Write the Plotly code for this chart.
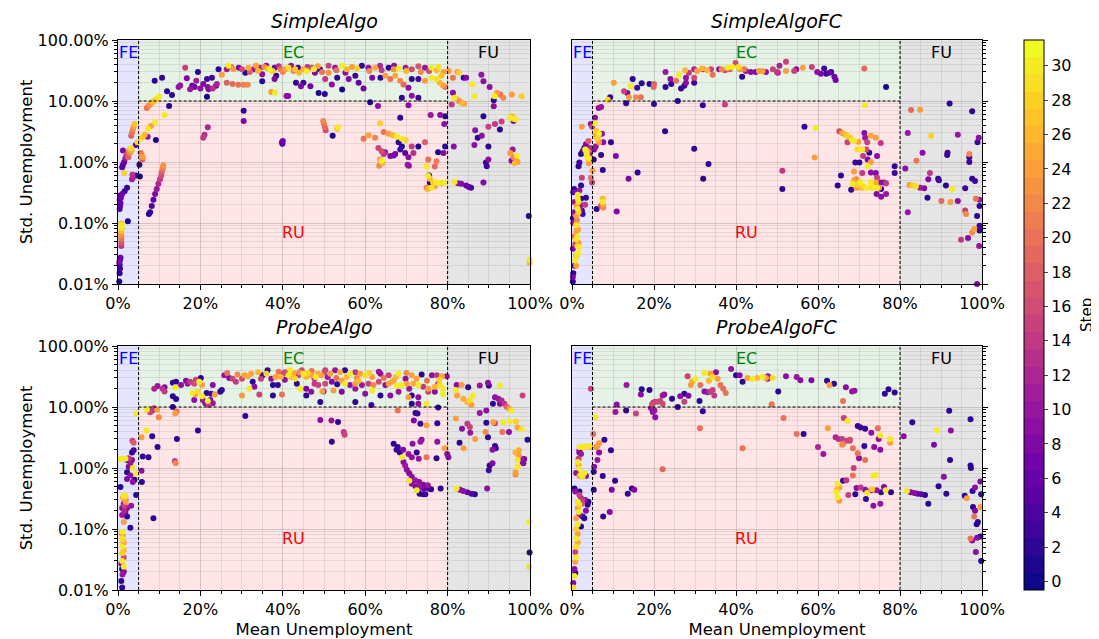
import plotly.graph_objects as go
import plotly.colors as pc

# ---------------- data: (mean unemployment %, std unemployment %, step) ----------------
simple_fe = [
    (0.3,0.011,1),(0.4,0.015,2),(0.5,0.018,3),(0.4,0.021,2),(0.5,0.025,4),(0.6,0.027,6),(0.3,0.023,8),
    (0.8,0.042,14),(0.8,0.048,17),(0.8,0.055,20),(0.8,0.062,22),(0.7,0.068,24),(0.8,0.075,27),(0.9,0.083,29),
    (0.9,0.092,30),(0.8,0.098,26),(2.4,0.107,1),
    (0.4,0.17,4),(0.5,0.19,5),(0.6,0.21,6),(0.4,0.24,3),(0.7,0.26,7),(0.5,0.28,5),(1.0,0.30,6),(1.6,0.33,3),(2.2,0.38,2),
    (3.4,0.52,10),(3.6,0.55,12),(3.5,0.62,13),(4.4,0.60,2),(1.5,0.66,28),
    (1.0,0.82,5),(1.2,0.90,4),(1.5,1.0,6),(1.8,1.15,10),(2.0,1.25,13),(2.3,1.35,16),(2.6,1.45,20),(2.8,1.55,23),
    (3.0,1.62,26),(3.2,1.70,29),(2.5,1.2,18),(2.9,1.4,22),(3.3,1.55,25),(1.2,1.55,8),
    (3.2,2.7,18),(3.4,3.0,20),(3.6,3.4,22),(3.8,3.8,24),(4.0,4.2,27),(4.3,1.9,4),(4.7,2.1,28),
]
simple_ru = [
    (5.3,0.58,1),(5.2,0.9,2),(5.5,1.4,20),(5.8,1.3,22),(6.0,1.2,24),(5.9,1.1,18),
    (5.8,2.5,28),(6.5,2.8,26),(7.3,3.5,30),(8.0,3.9,24),(9.0,4.5,30),(7.2,2.6,10),(9.2,2.3,1),
    (7.5,0.14,1),(7.8,0.15,2),(8.2,0.19,4),(8.6,0.24,6),(9.0,0.30,8),(9.4,0.36,10),(9.8,0.44,12),(10.2,0.52,14),
    (10.5,0.60,16),(10.6,0.68,18),(10.8,0.75,20),(10.9,0.82,22),(11.0,0.88,23),
    (11.3,5.9,30),(12.4,8.3,1),
    (7.0,7.7,20),(7.5,8.4,22),(8.0,9.0,24),(8.5,9.6,26),(9.0,10.3,27),(9.5,11.0,29),(10.0,11.8,30),
    (20.7,2.5,14),(21.0,2.8,13),(21.8,3.7,12),(30.5,6.9,2),(30.5,4.7,8),(39.8,2.1,6),(40.0,2.2,7),(39.9,2.0,4),
    (49.8,4.7,22),(50.0,4.2,20),(50.2,3.7,19),(50.4,3.3,16),(53.4,3.7,30),(53.2,3.5,26),(52.1,2.7,1),
    (61.2,9.5,1),(63.1,8.3,9),(63.6,4.3,28),(60.8,2.75,24),(62.4,2.5,22),(59.6,2.4,20),
    (64.5,3.1,20),(65.7,2.9,24),(66.7,2.75,26),(67.7,2.6,30),(68.9,2.4,30),(69.8,2.3,28),
    (68.1,2.1,2),(68.9,1.8,1),(68.5,1.6,3),(67.3,1.35,7),(66.1,1.25,8),(66.9,1.28,6),(69.7,1.4,5),(70.5,1.2,9),
    (70.3,0.9,10),(70.6,0.87,9),(71.3,1.8,14),(72.9,1.8,1),(71.7,1.4,13),
    (63.2,1.7,15),(64.0,1.5,16),(64.5,1.35,14),(63.6,1.1,24),(64.0,1.05,30),(63.4,0.87,22),(64.8,1.45,9),(64.2,0.95,26),
    (74.5,2.1,18),(75.3,1.1,20),(77.3,1.03,21),(76.9,0.84,19),(74.9,0.84,30),
    (77.7,1.45,1),(79.4,1.8,2),(79.0,1.4,8),(78.2,5.9,9),(79.4,5.6,1),(75.9,5.9,10),(79.2,4.2,9),(68.5,5.3,2),
    (75.3,0.59,30),(75.7,0.53,26),(76.5,0.46,28),(77.3,0.46,30),(74.9,0.38,22),(76.1,0.38,30),(76.9,0.40,24),
    (75.7,0.46,2),(77.7,0.46,30),(79.4,0.46,30),(75.5,0.60,1),(78.5,0.45,28),(75.2,0.36,26),(70.5,8.5,9),
]
simple_ec = [
    (8.9,21.4,2),(10.7,24,2),(11.9,14.5,2),(13.1,12.5,2),
    (15.1,18,9),(14.7,17,10),(16.7,23.5,8),(16.3,35,15),(18.0,17.7,5),(18.6,17,7),(19.4,30,2),(20.7,19,8),
    (21.6,23,3),(21.8,17,9),(22.8,24,3),(21.6,11.7,1),(23.8,17.7,6),(24.4,33,2),(25.2,27,24),(26.4,33,11),(26.8,38,30),
    (26.4,20,18),(27.8,19,19),(29.2,18.5,20),(30.5,18.5,21),(31.5,18.5,22),
    (28.0,33,24),(29.3,35,8),(30.1,33,16),(30.9,29,2),(31.7,35,25),(32.9,33,10),(34.4,35,12),(35.0,27.5,9),
    (36.8,33,30),(36.3,34,26),(38.0,35,6),(38.0,23,8),(38.4,26,2),(39.0,37,13),(40.6,33,24),(41.4,35,29),
    (42.6,31,22),(43.7,35,3),(45.0,33,25),(45.8,31,30),(47.0,35,16),(47.8,29,8),(49.0,33,2),
    (37.2,14,24),(38.1,13.7,30),(40.9,12.1,9),(41.3,12.1,8),(43.2,20,2),(45.0,20,3),(44.4,17.5,8),(46.7,17.5,7),
    (48.7,13.5,1),(50.2,13,2),(35.0,21,2),
    (51.1,38,15),(52.7,35,10),(54.4,38,30),(56.8,36,24),(59.2,38,3),(60.8,35,9),(62.4,35,25),(63.6,38,12),
    (65.7,35,2),(66.9,33,23),(68.1,34,30),(69.8,35,11),(71.3,33,16),(72.9,37,17),(74.5,35,10),(76.1,35,30),(77.3,32,26),
    (51.1,29,23),(53.2,24,2),(55.2,29,9),(56.0,23,8),(57.6,26,3),(58.4,20,6),(59.6,16,7),(61.7,24,8),(63.7,24,2),
    (64.9,26,24),(66.1,23,20),(67.3,26,25),(68.5,21.5,22),(69.3,18.7,19),(70.5,16.5,9),(71.3,23,2),(72.9,23,3),
    (74.5,21.5,24),(76.1,24,30),(77.3,23,29),(78.1,20,26),(78.9,18,24),(79.4,17,20),(78.5,26,27),
    (68.9,11.3,2),(71.3,12.2,9),(72.9,11.3,3),(50.3,23,14),(51.9,18.7,9),(54.4,15.5,1),
    (27.5,36,20),(33.5,38,24),(35.5,36,22),(37.5,31,28),(39.5,33,20),(42.0,38,10),(44.0,29,26),(46.0,36,14),
    (48.5,37,24),(32.0,30,18),(34.0,31,26),(36.0,38,9),(40.0,30,22),(43.0,33,27),(47.5,33,30),(49.5,30,20),
    (53.0,32,20),(55.5,33,26),(58.0,34,28),(61.0,31,22),(64.0,32,14),(67.0,38,9),(70.0,31,26),(73.5,30,22),
    (75.5,31,16),(77.8,36,29),(79.0,30,24),(20.0,16,9),(22.0,15.6,8),(17.5,15.6,10),(19.0,21.4,11),(24.0,19,12),(23.0,16,13),
]
simple_fu = [
    (81.7,0.47,30),(82.5,0.45,9),(83.3,0.44,8),(84.5,0.41,6),(85.2,0.39,5),(85.7,0.38,4),(88.7,0.46,8),
    (80.3,31,24),(81.3,13.7,9),(81.7,11.3,30),(82.0,11.0,24),(82.8,10.0,22),(83.5,9.3,26),(84.0,9.0,24),(81.0,8.8,14),
    (82.4,30,24),(82.8,29,28),(84.5,24,8),(83.9,24,2),(81.3,24,20),(86.0,18.7,30),(86.5,12.0,30),(88.2,27,10),
    (88.7,21,9),(90.2,17,9),(91.2,10.3,2),(91.2,8.2,9),(92.0,13.7,24),(92.8,12.8,20),(93.5,11.3,22),(91.4,12.0,30),
    (95.6,12.8,24),(98.0,12.0,28),
    (88.7,5.6,2),(86.7,3.3,9),(87.3,2.5,2),(88.3,2.7,9),(89.9,1.8,2),(86.5,1.9,9),(81.5,1.8,9),
    (89.9,3.8,15),(91.5,4.2,14),(93.1,4.6,15),(92.7,3.4,2),
    (95.2,5.3,30),(96.0,5.1,28),(96.5,5.0,30),(96.0,4.7,9),(95.6,5.6,26),
    (95.2,1.4,24),(96.0,1.2,22),(96.5,1.1,20),(97.0,1.0,24),(95.5,1.05,9),(96.8,1.25,30),(95.8,1.6,10),(96.3,0.95,26),
    (89.3,0.98,2),(89.5,0.85,3),(89.9,1.1,9),
    (99.7,0.13,2),(99.9,0.025,30),(99.9,0.022,26),
]

simplefc_fe = [
    (2.4,3.8,24),(4.6,4.2,9),(4.9,3.8,15),(3.4,1.95,8),(3.0,1.7,2),(2.6,1.5,3),(3.2,1.6,30),(3.5,1.42,30),
    (3.7,1.25,29),(4.0,1.13,26),(4.1,0.95,24),(4.1,1.15,30),(4.3,1.35,10),(2.2,1.35,2),(1.8,0.98,3),(1.6,0.85,2),
    (2.4,0.55,15),(2.2,0.41,2),(4.6,0.55,20),(4.9,0.46,15),(3.8,1.5,25),(4.4,1.7,12),(4.0,2.2,18),
    (0.5,0.36,2),(0.8,0.32,8),(1.4,0.25,30),(1.6,0.22,29),(1.1,0.19,24),(1.4,0.17,30),(1.6,0.15,28),(2.0,0.17,9),
    (2.4,0.16,2),(2.6,0.14,3),(3.4,0.26,2),(3.2,0.2,14),(0.6,0.22,10),(1.0,0.13,24),(1.2,0.11,22),(1.0,0.093,30),
    (1.1,0.074,24),(1.3,0.06,30),(1.0,0.054,29),(1.6,0.047,24),(1.7,0.04,30),(1.5,0.032,30),(1.0,0.029,24),
    (0.8,0.024,30),(0.6,0.02,2),(0.3,0.015,2),(0.2,0.013,8),(0.2,0.011,2),(0.3,0.10,10),(0.2,0.12,3),(0.6,0.15,9),
    (0.3,0.32,2),(0.8,0.045,15),(0.6,0.06,20),(0.2,0.038,8),(2.2,0.25,2),(2.0,0.2,9),(1.8,0.34,10),(1.4,0.29,30),
    (1.5,0.078,25),(1.3,0.042,28),(1.2,0.029,29),(1.0,0.02,24),
]
simplefc_ru = [
    (13.2,9.2,2),(20.0,8.9,2),(25.8,10,2),(31.9,8.5,2),(37.3,8.8,15),(22.7,3.2,2),(29.8,1.65,2),(33.3,0.93,2),
    (32.0,0.53,2),(16.0,0.67,2),(13.8,0.53,8),(10.7,1.25,8),(9.5,2.1,2),(7.6,2.1,9),(7.1,1.3,2),(7.5,0.74,2),
    (10.9,0.155,8),(6.0,0.17,2),(7.5,0.25,26),(7.5,0.22,30),(7.6,0.2,24),(7.6,0.18,22),(7.1,0.19,16),
    (5.6,5.3,9),(5.6,4.3,30),(6.6,2.9,30),(6.2,2.4,28),(5.8,2.7,24),(6.6,2.1,24),(7.3,2.9,9),(5.4,1.6,8),(5.8,1.8,10),
    (5.3,1.1,2),(7.1,8.0,10),(6.5,7.7,9),(5.0,0.72,24),(6.2,2.6,26),(6.0,3.2,27),
    (71.5,8.5,30),(56.7,3.8,2),(59.4,3.6,30),(59.2,1.18,24),(51.3,0.72,14),(51.3,0.36,2),
    (65.2,3.2,16),(65.9,3.0,24),(66.5,2.85,26),(67.1,2.7,28),(67.8,2.5,27),(68.3,2.3,30),(67.2,2.1,15),(68.9,2.25,30),
    (69.8,2.15,24),(71.3,3.0,9),(71.5,2.5,10),(72.9,2.7,25),(74.1,2.5,24),(75.3,2.05,14),(72.0,2.1,15),(70.8,1.6,30),
    (71.8,1.6,16),(72.5,1.42,2),(69.6,1.62,29),(71.0,1.25,14),(72.1,1.1,8),(72.9,1.0,24),(74.4,1.25,9),(72.1,0.85,30),
    (70.1,0.98,2),(69.1,0.98,3),(70.8,0.66,14),(72.9,0.67,9),(74.1,0.66,8),(74.4,0.55,15),(68.8,0.7,24),(65.6,0.6,2),
    (64.8,0.41,2),(68.8,0.5,24),(68.4,0.44,30),(70.3,0.47,30),(71.1,0.4,29),(72.9,0.47,30),(74.1,0.46,25),(73.7,0.38,30),
    (74.9,0.38,24),(75.3,0.46,9),(76.1,0.46,8),(76.6,0.45,14),(75.4,0.36,2),(74.3,0.3,8),(75.4,0.27,9),(76.6,0.3,10),
    (68.1,0.35,2),(69.4,0.38,24),(78.7,0.85,2),(78.7,0.66,3),(69.3,0.52,22),(69.5,0.42,28),(70.7,0.38,26),(71.9,0.38,30),
    (73.1,0.38,29),(74.4,0.38,30),
]
simplefc_ec = [
    (8.7,10.5,29),(8.9,10.6,6),(9.3,11.5,2),(10.2,20,24),(12.7,14.5,15),(13.5,13.5,8),(13.9,11.5,24),(15.6,11.5,22),
    (16.8,11.5,20),(14.3,17.5,30),(14.8,23,2),(15.9,16.5,3),(17.0,19.5,2),(18.9,19,1),(19.9,17,19),(20.0,19,18),
    (22.8,30,10),(22.8,17,2),(24.0,23,9),(24.2,19,2),(25.4,21.5,20),(26.1,27,30),(26.6,16,2),(27.4,17.7,3),(27.8,20,9),
    (27.6,32,26),(27.8,24,10),(29.8,20,3),(29.8,24,16),(29.8,33,12),(31.7,34,26),(31.9,33,11),(33.9,33,15),(34.3,27,20),
    (35.9,33,9),(37.3,32,16),(37.9,35,30),(39.1,36,30),(39.9,42,16),(40.6,36,29),(41.5,25,2),(42.4,31,10),(43.6,30,9),
    (44.8,30,8),(45.6,31,24),(47.3,30,9),(49.0,33,15),(50.0,30,14),
    (50.6,38,12),(50.2,29,10),(52.2,31,24),(52.2,44,15),(54.2,31,15),(54.7,33,9),(56.3,35,24),(58.5,36,15),(59.8,30,9),
    (60.7,28,8),(61.5,34,3),(62.0,28,2),(62.8,29,7),(63.2,30,2),(64.0,25,6),(64.3,22,7),(71.3,34,19),(76.6,17,1),
    (41.0,33,24),(42.0,33,20),(38.5,33,18),(36.5,33,22),(30.5,31,24),(28.5,29,14),(33.0,32,26),(46.5,31,24),
]
simplefc_fu = [
    (82.7,7.1,19),(84.9,7.2,24),(92.1,9.1,2),(97.6,6.8,2),(81.9,3.0,10),(87.6,2.7,28),(94.1,2.8,10),(99.2,2.5,9),
    (98.9,2.1,3),(85.5,1.42,9),(91.6,1.42,3),(91.5,1.3,2),(96.9,1.35,22),(96.9,1.2,3),(96.9,1.0,3),(84.0,1.05,20),
    (81.3,0.78,9),(87.3,0.66,14),(86.9,0.52,8),(89.3,0.53,2),(89.5,0.5,3),(91.2,0.41,2),(92.7,0.36,30),(95.9,0.37,3),
    (97.6,0.53,2),(98.3,0.49,3),(82.3,0.42,24),(83.1,0.41,28),(83.9,0.40,29),(84.9,0.38,10),(85.9,0.37,8),
    (86.7,0.26,2),(90.1,0.23,19),(92.3,0.22,24),(94.1,0.23,9),(98.5,0.25,20),(99.4,0.24,10),(99.4,0.19,2),
    (81.9,0.15,10),(95.9,0.16,15),(96.1,0.14,22),(98.8,0.13,2),(99.4,0.09,3),(99.4,0.075,2),(98.1,0.08,24),
    (97.6,0.07,22),(96.6,0.057,8),(94.9,0.053,14),(99.3,0.042,10),(98.8,0.01,8),
]

probe_fe = [
    (3.4,1.35,9),(3.0,1.2,10),(2.6,1.45,14),(3.4,1.8,2),(3.8,1.95,3),(3.5,2.8,15),(3.8,2.6,18),(2.2,1.35,2),
    (1.8,1.42,30),(1.4,1.42,30),(0.6,1.4,30),(2.6,1.05,8),(2.2,0.85,2),(3.0,0.75,9),(3.6,1.0,30),(4.6,0.8,30),(4.0,0.64,2),
    (3.6,0.59,9),(2.2,0.66,8),(4.4,0.36,2),(3.2,0.24,10),(3.0,0.105,2),(1.4,0.13,24),(1.0,0.22,9),(1.4,0.26,8),
    (1.8,0.31,14),(1.4,0.36,30),(1.8,0.34,29),(1.9,0.28,24),(1.6,0.24,15),(2.2,0.22,9),(1.8,0.19,8),(2.2,0.16,2),
    (1.0,0.17,10),(0.6,0.49,2),(1.6,0.30,20),(1.2,0.33,26),(1.5,0.20,12),
    (1.0,0.09,30),(1.2,0.079,25),(1.0,0.07,29),(1.4,0.06,24),(1.0,0.051,30),(1.4,0.045,26),(1.0,0.04,28),(1.4,0.034,16),
    (1.0,0.03,30),(0.8,0.027,9),(1.0,0.022,2),(1.4,0.02,8),(1.1,0.018,10),(0.8,0.014,2),(1.0,0.011,2),(1.4,0.024,30),
    (1.2,0.065,27),(0.9,0.085,22),(4.4,7.8,30),
]
probe_ru = [
    (7.0,9.0,30),(7.8,8.2,15),(8.3,8.8,10),(8.7,9.5,14),(9.5,9.0,24),(9.9,6.8,22),(13.3,10.0,2),(13.9,7.8,24),
    (14.2,8.4,20),(6.9,4.1,30),(5.7,3.2,24),(8.3,3.3,2),(9.6,2.2,2),(14.3,3.0,2),(19.4,4.1,2),(30.9,7.1,2),(49.1,6.1,9),
    (6.0,1.55,2),(7.4,1.5,2),(5.8,0.59,2),(5.7,0.9,9),(13.8,1.3,15),(14.0,1.2,22),(8.6,0.15,2),
    (51.8,6.0,10),(53.4,5.7,2),(54.8,3.9,14),(55.0,3.5,15),(51.9,2.7,2),(67.9,8.8,20),(72.2,8.0,2),(72.7,7.8,3),
    (71.8,6.0,8),(73.4,5.3,3),(77.5,5.4,2),(74.9,5.0,24),(77.5,2.7,9),(73.7,2.9,9),(73.4,2.7,10),(71.5,2.5,9),
    (66.9,2.5,2),(67.9,2.2,2),(67.6,2.0,3),(68.4,1.8,2),(69.2,2.0,8),(70.5,1.7,10),(72.5,1.8,2),(71.3,1.5,9),
    (73.0,1.42,10),(74.9,1.5,20),(77.3,1.45,2),(79.3,2.1,24),(79.9,1.7,9),
    (68.9,1.5,30),(69.3,1.25,9),(69.7,1.1,10),(70.1,0.94,9),(70.7,0.82,8),(71.3,0.72,9),(72.1,0.63,10),(73.1,0.59,9),
    (74.1,0.53,8),(75.2,0.52,10),(70.7,0.62,30),(71.3,0.55,9),(72.2,0.5,8),(73.2,0.47,9),(74.3,0.46,6),(75.4,0.46,3),
    (76.0,0.45,2),(72.5,0.43,30),(73.2,0.38,2),(74.1,0.37,2),(74.6,0.37,3),(78.3,0.46,2),
]
probe_ec = [
    (8.8,20,12),(9.6,22,10),(10.8,20,13),(11.3,21,8),(11.3,18,14),(13.3,25,2),(14.1,26,2),(13.9,21,30),(13.3,15,2),
    (14.1,13.5,2),(15.3,23,9),(16.5,27,8),(16.9,24,10),(17.5,26,14),(18.5,24,16),(18.9,28,15),(20.1,30,2),(19.7,26,30),
    (20.4,23,24),(18.1,17,30),(18.8,16,24),(19.3,18,29),(20.4,15,30),(18.5,13,9),(20.6,13,10),(21.2,11.5,9),(22.4,13,8),
    (22.0,10.8,14),(23.0,11.5,10),(21.8,12.5,30),(23.5,16,24),(21.5,17,2),(22.6,16.5,3),(23.0,23,9),(24.8,17.7,2),
    (25.2,19,2),(25.8,33,10),(27.0,30,8),(27.8,29,15),(28.6,26,14),(30.1,29,16),(30.7,33,24),(31.5,32,25),(32.3,35,24),
    (32.7,26,2),(33.1,21.5,9),(34.7,29,15),(35.1,33,2),(36.3,40,2),(37.2,29,9),(37.6,23,2),(38.2,31,24),(38.8,23,2),
    (39.8,16,20),(34.3,16,15),(31.9,20,30),(30.1,15.5,24),(37.6,15.5,2),(40.6,37,16),(41.4,33,30),(41.8,40,30),
    (42.6,36,24),(43.0,29,29),(43.8,33,15),(44.6,40,16),(45.0,35,30),(45.7,31,26),(46.1,36,28),(46.9,33,24),(47.7,29,14),
    (48.5,35,25),(49.3,33,24),(50.1,37,16),(50.9,31,10),(43.4,24,2),(44.2,20,30),(45.7,20,8),(46.9,17.7,9),(47.7,24,14),
    (48.6,23,15),(49.6,18,24),(45.7,15.5,2),(49.1,12.1,2),(26.5,36,20),(29.0,34,22),(34.0,37,26),(36.0,35,28),
    (39.0,38,20),(40.0,35,14),(42.0,31,26),(44.0,37,22),(47.0,39,20),(48.0,31,30),(40.5,28,9),(39.5,31,26),
    (50.3,40,15),(51.5,35,24),(52.7,40,10),(53.9,37,25),(55.1,40,2),(56.3,35,30),(57.6,37,14),(58.8,35,24),(60.0,33,29),
    (61.7,31,24),(63.3,38,10),(63.7,35,9),(65.7,33,15),(66.9,27,24),(68.1,35,30),(69.8,29,9),(71.3,33,24),(72.5,29,24),
    (73.7,34,2),(76.2,33,9),(77.4,33,14),(78.6,32,25),(79.8,32,10),
    (50.3,24,16),(51.9,26,8),(53.2,23.5,2),(54.3,27,24),(55.1,24,30),(56.3,23,9),(57.6,24,24),(58.4,27,26),(59.2,23,10),
    (60.8,24,15),(62.0,23,22),(63.3,26,16),(64.9,23,9),(65.7,24,24),(66.5,26,25),(67.7,22,30),(68.9,23,30),(70.1,24,24),
    (70.7,20,10),(71.7,24,25),(72.9,23,30),(74.1,21.5,14),(75.3,20,24),(76.9,21.5,26),(78.1,23,29),(78.9,20,30),(77.7,24,16),
    (49.9,18,9),(52.3,18.7,24),(54.3,17.7,8),(57.6,20,10),(60.0,16.5,9),(61.7,18.7,30),(63.7,15.5,2),(66.1,15.5,9),
    (68.1,17.7,10),(70.5,14.5,24),(71.3,15.5,2),(72.9,14.5,9),(74.9,11.3,30),(75.3,17.7,15),(76.9,17.7,9),(78.9,16,30),
    (57.6,12.1,2),(61.5,10.8,3),(71.3,11.3,2),(72.9,11.3,9),(77.7,9.8,2),
    (53.0,30,20),(55.5,31,26),(58.0,30,22),(61.0,36,28),(64.5,30,20),(67.5,31,26),(70.0,36,22),(75.0,27,20),(78.0,28,28),
]
probe_fu = [
    (82.2,0.46,30),(83.0,0.44,8),(83.8,0.42,9),(84.8,0.40,6),(85.8,0.38,4),(86.6,0.37,2),(89.6,0.46,9),
    (82.2,23,9),(83.4,23,24),(85.0,21,2),(82.0,19,30),(82.3,15.5,24),(83.8,13.7,25),(84.8,12.1,26),(85.4,12.9,29),
    (86.2,15.5,30),(85.8,10.8,24),(87.8,22.5,10),(89.8,25,9),(90.0,22.5,2),(92.7,22.5,30),
    (91.5,14.5,9),(92.3,13.7,10),(93.1,12.8,12),(93.8,11.3,14),(94.4,10.0,18),(95.0,9.4,24),(95.5,8.8,30),(92.7,11.3,8),
    (98.2,15.5,15),(91.0,11.3,2),(89.4,8.8,9),(87.8,8.0,10),(82.0,6.5,24),(84.8,5.3,14),(85.4,4.7,15),(89.4,5.5,2),
    (91.5,5.4,15),(91.1,5.6,24),(93.5,5.6,30),(95.1,5.8,30),(96.6,5.8,28),(98.0,4.3,30),(97.0,4.6,24),
    (83.5,4.4,9),(85.5,3.8,10),(86.7,3.0,24),(89.2,3.9,22),(89.8,3.2,2),(93.3,3.9,20),(94.9,3.9,9),(99.4,2.9,2),
    (80.2,1.5,9),(83.9,2.1,24),(82.9,2.6,2),(91.5,2.3,2),(91.7,2.1,3),(90.9,2.0,9),(90.2,1.1,2),(90.0,0.92,3),(90.9,1.2,8),
    (96.5,0.85,24),(97.0,1.05,30),(97.3,1.6,24),(97.8,1.42,10),(98.2,1.25,9),(98.6,1.4,8),(97.0,1.35,30),(96.5,1.8,26),
    (97.3,1.95,25),(98.4,1.2,9),(96.5,0.78,22),
    (99.8,0.13,30),(99.9,0.041,2),(99.8,0.024,29),
]

probefc_fe = [
    (1.8,2.2,30),(2.6,2.2,30),(3.4,2.2,29),(4.2,2.3,30),(4.6,2.2,24),(1.8,1.95,9),(2.2,1.7,10),(1.6,1.42,15),
    (1.4,1.25,30),(1.6,1.1,24),(1.8,0.98,30),(2.2,0.78,30),(2.6,0.72,29),(1.8,0.74,24),(3.4,0.74,9),(1.0,0.83,10),
    (0.6,0.46,2),(0.8,0.41,9),(1.8,0.36,15),(2.2,0.32,10),(2.6,0.30,14),(3.2,0.30,8),(4.0,0.28,2),(1.4,0.28,30),
    (1.8,0.25,29),(1.4,0.22,24),(1.6,0.19,30),(1.8,0.17,9),(2.6,0.16,2),(3.0,0.15,2),(1.0,0.15,24),(1.4,0.12,30),
    (1.0,0.10,28),(1.4,0.083,24),(1.0,0.07,30),(1.4,0.06,25),(1.0,0.051,29),(0.8,0.042,15),(1.0,0.034,30),(0.8,0.029,24),
    (0.6,0.022,9),(0.6,0.017,30),(0.3,0.013,8),(0.3,0.011,29),(3.8,0.25,2),(3.4,0.2,9),(2.4,0.26,16),(2.2,0.11,2),
    (0.8,0.019,2),(1.8,1.8,8),(3.0,0.83,30),(1.8,0.41,2),(4.6,20,15),
]
probefc_ru = [
    (10.6,8.3,10),(13.2,8.8,2),(15.6,7.8,15),(19.3,9.5,10),(19.7,8.3,9),(20.1,8.8,10),(20.3,6.8,9),(31.9,8.5,2),
    (31.2,4.5,20),(41.6,2.1,20),(22.1,0.95,19),(5.7,6.8,30),(5.2,3.6,20),(7.9,2.9,2),(9.5,1.95,2),(6.2,2.3,24),
    (6.6,2.55,24),(5.9,2.2,22),(6.6,1.8,9),(6.2,1.35,10),(5.4,1.05,9),(5.3,0.87,2),(7.5,0.74,2),(10.5,0.62,2),
    (9.7,0.44,8),(13.6,0.38,2),(14.6,0.46,2),(15.2,0.44,8),(7.6,0.16,2),(9.2,0.19,8),(5.3,0.44,2),
    (48.7,11.1,20),(51.6,6.6,20),(62.4,4.5,24),(54.8,3.6,20),(56.5,3.6,2),(60.0,2.2,12),(61.3,1.7,10),(66.3,6.6,15),
    (67.2,5.9,30),(64.3,3.2,12),(65.0,3.0,13),(65.9,3.0,14),(66.8,2.8,15),(67.7,2.8,14),(66.1,2.5,20),(65.9,2.4,22),
    (67.8,2.9,16),(69.7,4.9,2),(70.4,4.6,3),(71.5,4.4,2),(73.0,3.8,9),(74.6,4.5,20),(75.2,3.4,30),(74.8,3.0,9),
    (77.6,3.0,30),(77.6,2.6,24),(68.5,2.1,20),(69.7,1.75,20),(70.0,1.45,9),(71.3,2.3,2),(73.7,2.2,9),(75.2,2.0,9),
    (71.5,1.35,20),(68.7,1.0,15),(68.5,0.75,20),(73.5,0.75,30),(74.1,0.76,30),(66.1,0.62,2),(66.9,0.63,14),
    (64.8,0.55,30),(64.5,0.40,30),(65.2,0.48,24),(64.8,0.33,30),(65.2,0.29,24),(69.4,0.47,9),(69.1,0.37,2),(67.4,0.36,15),
    (70.4,0.48,14),(71.5,0.44,9),(72.0,0.39,30),(73.0,0.43,9),(74.3,0.43,10),(75.4,0.40,2),(76.1,0.49,8),(76.5,0.43,30),
    (77.8,0.40,2),(71.7,0.31,2),(73.5,0.24,9),(75.2,0.26,10),(64.6,0.44,26),(73.2,0.45,28),
]
probefc_ec = [
    (10.9,11.0,9),(13.3,23,10),(17.0,19.5,2),(16.8,16,9),(18.9,19,2),(19.5,11,16),(19.8,11.7,15),(20.3,12.2,14),
    (20.9,12.2,16),(21.5,12.5,15),(22.1,11.3,16),(22.1,15.5,10),(22.5,16,9),(24.4,13.7,2),(25.8,10,2),(26.4,15,9),
    (27.4,16.5,2),(27.4,12.2,15),(28.4,15.3,8),(28.2,32,15),(29.0,23,24),(29.3,26,25),(30.1,29,30),(31.1,12.5,2),
    (31.3,23,20),(32.3,18,9),(33.1,17.5,10),(33.7,17.7,14),(34.3,19,15),(34.7,15.5,14),(32.3,36,30),(34.3,31,29),
    (33.8,35,24),(35.5,29,24),(33.4,27,26),(35.1,37,9),(36.2,23,20),(36.9,20,19),(37.5,17,20),(38.8,42,10),
    (40.0,33,2),(40.9,33,9),(41.6,26,2),(42.8,30,24),(44.0,29,30),(45.2,30,26),(46.5,31,30),(47.7,29,9),(48.9,30,29),
    (47.3,30,24),(47.8,32,10),(52.2,32,9),(54.8,31,10),(55.7,27.5,9),(58.4,27.5,8),(62.2,27,2),(62.8,23,24),(63.9,24,2),
    (66.8,21,9),(68.3,18,10),(68.9,18.5,9),(66.1,12.6,20),(76.3,16.5,2),(77.2,19.5,2),(78.7,17.3,2),(50.3,18,2),
]
probefc_fu = [
    (80.9,3.3,9),(83.0,5.6,2),(81.7,0.42,30),(82.6,0.40,8),(83.5,0.39,9),(84.3,0.38,6),(85.2,0.37,5),(86.1,0.36,2),
    (86.9,0.26,2),(88.3,2.4,8),(89.0,4.17,30),(89.4,0.5,2),(90.7,0.72,9),(91.3,0.38,2),(92.0,8.7,2),(92.4,4.1,9),
    (92.2,1.35,2),(95.8,0.35,2),(96.3,0.32,24),(97.2,6.3,2),(97.2,1.1,2),(97.3,1.0,2),(97.7,0.42,2),(98.3,0.48,9),
    (97.8,0.23,2),(98.3,0.2,8),(98.1,0.16,20),(98.7,0.12,2),(99.0,0.13,2),(97.2,0.07,20),(97.6,0.065,9),(98.8,0.072,8),
    (99.6,0.075,2),(98.5,0.042,9),(99.8,0.03,2),(99.6,0.6,8),(99.8,0.37,2),(99.6,0.23,24),
]

titles = ["SimpleAlgo", "SimpleAlgoFC", "ProbeAlgo", "ProbeAlgoFC"]
panel_data = [
    simple_fe + simple_ru + simple_ec + simple_fu,
    simplefc_fe + simplefc_ru + simplefc_ec + simplefc_fu,
    probe_fe + probe_ru + probe_ec + probe_fu,
    probefc_fe + probefc_ru + probefc_ec + probefc_fu,
]
x_ticks = [0, 20, 40, 60, 80, 100]
x_ticktext = ["0%", "20%", "40%", "60%", "80%", "100%"]
y_ticks = [0.01, 0.1, 1, 10, 100]
y_ticktext = ["0.01%", "0.10%", "1.00%", "10.00%", "100.00%"]
step_ticks = list(range(0, 31, 2))

# ---------------- figure ----------------
W, H = 1099, 639
OFF = 8  # page body margin in front of the figure
FONT = "DejaVu Sans"
col_px = [(118, 530), (572, 982)]
row_px = [(40, 284), (346, 590)]

def fx(px):
    return (px - OFF) / W

def fy(py):
    return 1 - (py - OFF) / H

n_steps = 32
cols = pc.sample_colorscale("Plasma", [i / (n_steps - 1) for i in range(n_steps)])
cscale = []
for i, c in enumerate(cols):
    cscale.append([i / n_steps, c])
    cscale.append([(i + 1) / n_steps, c])

fig = go.Figure()
shapes, annotations = [], []
ylog_lo, ylog_hi = -2, 2
ec_frac = (1 - ylog_lo) / (ylog_hi - ylog_lo)  # position of 10% on the log axis
grid_c = "rgba(120,120,120,0.16)"
DASH = "3px,2px"

for k in range(4):
    r, c = divmod(k, 2)
    sfx = "" if k == 0 else str(k + 1)
    xa, ya = "x" + sfx, "y" + sfx
    pts = sorted(panel_data[k], key=lambda p: p[2])
    fig.add_trace(go.Scatter(
        x=[p[0] for p in pts], y=[p[1] for p in pts], mode="markers",
        marker=dict(size=6, color=[p[2] for p in pts], coloraxis="coloraxis", line=dict(width=0)),
        xaxis=xa, yaxis=ya, cliponaxis=False, showlegend=False, hoverinfo="skip"))

    xd = [fx(col_px[c][0]), fx(col_px[c][1])]
    yd = [fy(row_px[r][1]), fy(row_px[r][0])]
    xaxis = dict(domain=xd, anchor=ya, range=[0, 100], tickvals=x_ticks, ticktext=x_ticktext, automargin=False,
                 ticks="outside", ticklen=5, tickcolor="black", showline=True, linecolor="black", mirror=True,
                 showgrid=True, gridcolor=grid_c, zeroline=False, tickfont=dict(size=16),
                 minor=dict(dtick=5, ticks="outside", ticklen=3, tickcolor="black", showgrid=True, gridcolor=grid_c))
    if r == 1:
        xaxis["title"] = dict(text="Mean Unemployment", font=dict(size=16.5), standoff=5)
    yaxis = dict(domain=yd, anchor=xa, type="log", range=[ylog_lo, ylog_hi], tickvals=y_ticks, ticktext=y_ticktext,
                 ticks="outside", ticklen=5, tickcolor="black", showline=True, linecolor="black", mirror=True,
                 automargin=False,
                 showgrid=True, gridcolor=grid_c, zeroline=False, tickfont=dict(size=16),
                 minor=dict(dtick="D1", ticks="outside", ticklen=3, tickcolor="black", showgrid=True, gridcolor=grid_c))
    if c == 0:
        yaxis["title"] = dict(text="Std. Unemployment", font=dict(size=16.5), standoff=0)
    else:
        yaxis["showticklabels"] = False
        yaxis["side"] = "right"
    fig.layout["xaxis" + sfx] = xaxis
    fig.layout["yaxis" + sfx] = yaxis

    yd_ref = ya + " domain"
    for (x0, x1, y0, y1, col) in [(0, 5, 0, 1, "rgba(0,0,255,0.1)"), (5, 80, ec_frac, 1, "rgba(0,128,0,0.1)"),
                                  (5, 80, 0, ec_frac, "rgba(255,0,0,0.1)"), (80, 100, 0, 1, "rgba(0,0,0,0.1)")]:
        shapes.append(dict(type="rect", xref=xa, yref=yd_ref, x0=x0, x1=x1, y0=y0, y1=y1,
                           fillcolor=col, line=dict(width=0), layer="below"))
    for xv in (5, 80):
        shapes.append(dict(type="line", xref=xa, yref=yd_ref, x0=xv, x1=xv, y0=0, y1=1,
                           line=dict(color="black", width=1, dash=DASH), layer="above"))
    shapes.append(dict(type="line", xref=xa, yref=yd_ref, x0=5, x1=80, y0=ec_frac, y1=ec_frac,
                       line=dict(color="black", width=1, dash=DASH), layer="above"))

    for (txt, xv, yv, colr) in [("FE", 2.5, 0.947, "blue"), ("EC", 42.5, 0.947, "green"),
                                ("FU", 90, 0.947, "black"), ("RU", 42.5, 0.213, "red")]:
        annotations.append(dict(text=txt, xref=xa, yref=yd_ref, x=xv, y=yv, showarrow=False,
                                xanchor="center", yanchor="middle",
                                font=dict(size=16, color=colr, family=FONT)))
    annotations.append(dict(text="<i>" + titles[k] + "</i>", xref=xa + " domain", yref=yd_ref, x=0.5, y=1,
                            xanchor="center", yanchor="bottom", yshift=6, showarrow=False,
                            font=dict(size=19, family=FONT)))

# colour bar label
annotations.append(dict(text="Step", xref="paper", yref="paper", x=fx(1087), y=fy(315), textangle=-90,
                        xanchor="center", yanchor="middle", showarrow=False, font=dict(size=15, family=FONT)))

fig.update_layout(
    width=W, height=H, margin=dict(l=0, r=0, t=0, b=0, autoexpand=False),
    paper_bgcolor="white", plot_bgcolor="white",
    font=dict(family=FONT, color="black", size=16),
    shapes=shapes, annotations=annotations,
    coloraxis=dict(colorscale=cscale, cmin=-0.5, cmax=31.5,
                   colorbar=dict(x=fx(1024), xanchor="left", y=fy(40), yanchor="top",
                                 len=550 / H, lenmode="fraction", thickness=20, thicknessmode="pixels",
                                 outlinecolor="black", outlinewidth=1, ticks="outside", ticklen=4,
                                 tickvals=step_ticks, tickfont=dict(size=16), xpad=0, ypad=0)),
)

fig.write_html("out.html")
